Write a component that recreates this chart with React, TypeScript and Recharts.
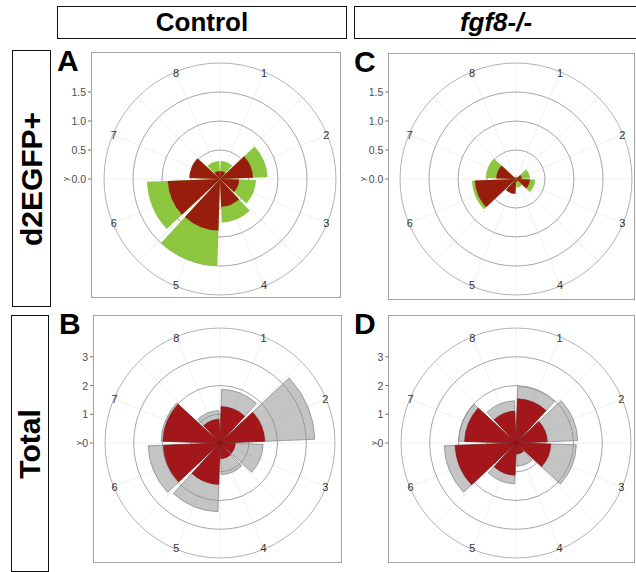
import React from 'react';
import {
  RadialBarChart,
  RadialBar,
  PolarGrid,
  PolarAngleAxis,
  PolarRadiusAxis,
} from 'recharts';

const sectors = ['1', '2', '3', '4', '5', '6', '7', '8'];

// d2EGFP+ rows: green = all d2EGFP+ cells, red = subset drawn on top
const controlGfpGreen = [0.31, 0.82, 0.62, 0.75, 1.5, 1.26, 0.45, 0.31];
const controlGfpRed = [0.14, 0.57, 0.33, 0.48, 0.89, 0.9, 0.53, 0.14];
const mutantGfpGreen = [0.04, 0.24, 0.33, 0.15, 0.2, 0.76, 0.52, 0.04];
const mutantGfpRed = [0.03, 0.1, 0.24, 0.05, 0.26, 0.71, 0.34, 0.03];

// Total rows: grey = all cells, red = subset
const controlTotalGrey = [1.87, 3.3, 1.5, 1.1, 2.39, 2.5, 2.05, 1.13];
const controlTotalRed = [1.27, 1.56, 0.53, 0.55, 1.44, 1.97, 1.98, 0.83];
const mutantTotalGrey = [1.97, 2.15, 2.1, 0.81, 1.42, 2.5, 2.0, 1.47];
const mutantTotalRed = [1.54, 1.09, 1.21, 0.39, 1.12, 2.12, 1.79, 1.11];

const gfpTicks = [0, 0.5, 1, 1.5];
const totalTicks = [0, 1, 2, 3];

const FONT = '"Liberation Sans", Arial, sans-serif';
const SPOKES = Array.from({ length: 16 }, (_, i) => i * 22.5);

const W = 300;
const H = 270;
const CX = 160;
const CY = 135;
// bars open counter-clockwise from their tick, so the whole wheel is turned
// back one sector and the labels are moved to the middle of each bar
const START = 45;
const HALF_SECTOR = 22.5;

interface BarStyle {
  fill: string;
  stroke?: string;
  fillOpacity?: number;
}

interface RosePanelProps {
  letter: string;
  frame: [number, number, number, number];
  center: [number, number];
  back: number[];
  front: number[];
  backStyle: BarStyle;
  frontStyle: BarStyle;
  ticks: number[];
  maxR: number;
  outer: number;
  digits: number;
  titleGap: number;
}

function RosePanel({
  letter, frame, center, back, front, backStyle, frontStyle, ticks, maxR, outer, digits, titleGap,
}: RosePanelProps) {
  const data = sectors.map((s, i) => ({ sector: s, back: back[i], front: front[i] }));
  const left = center[0] - CX;
  const top = center[1] - CY;
  const labelX = frame[0] - left - 5;

  const AngleTick = (props: any) => {
    const { payload } = props;
    const a = ((payload.coordinate + HALF_SECTOR) * Math.PI) / 180;
    const r = outer - 1;
    const x = CX + r * Math.cos(a);
    const y = CY - r * Math.sin(a);
    return (
      <text x={x} y={y} textAnchor="middle" dominantBaseline="central" fontSize={11} fill="#333" fontFamily={FONT}>
        {payload.value}
      </text>
    );
  };

  const RadiusTick = (props: any) => {
    const { y, payload } = props;
    const v = payload.value as number;
    return (
      <g>
        <text x={labelX} y={y} textAnchor="end" dominantBaseline="central" fontSize={10.5} fill="#4d4d4d" fontFamily={FONT}>
          {v.toFixed(digits)}
        </text>
        <line x1={labelX + 2} x2={labelX + 5} y1={y} y2={y} stroke="#4d4d4d" strokeWidth={0.8} />
        {v === 0 && (
          <text
            x={labelX - titleGap}
            y={y}
            textAnchor="middle"
            dominantBaseline="central"
            fontSize={8}
            fill="#4d4d4d"
            fontFamily={FONT}
            transform={`rotate(-90 ${labelX - titleGap} ${y})`}
          >
            y
          </text>
        )}
      </g>
    );
  };

  const chartProps = {
    width: W,
    height: H,
    data,
    cx: CX,
    cy: CY,
    innerRadius: 0,
    outerRadius: outer,
    startAngle: START,
    endAngle: START - 360,
    layout: 'centric' as const,
    barCategoryGap: '5%',
  };

  return (
    <>
      <div
        style={{
          position: 'absolute', left: frame[0], top: frame[1], width: frame[2], height: frame[3],
          border: '1.5px solid #a3a3a3', boxSizing: 'border-box',
        }}
      />
      <div style={{ position: 'absolute', left, top }}>
        <RadialBarChart {...chartProps}>
          <PolarGrid gridType="circle" polarAngles={SPOKES} polarRadius={[]} stroke="#ebebeb" strokeWidth={0.8} />
          <PolarGrid gridType="circle" radialLines={false} stroke="#8e8e8e" strokeWidth={0.8} />
          <PolarAngleAxis
            dataKey="sector"
            type="category"
            tickSize={0}
            tickLine={false}
            axisLineType="circle"
            axisLine={{ stroke: '#a0a0a0', strokeWidth: 0.8 }}
            tick={AngleTick}
          />
          <PolarRadiusAxis
            type="number"
            angle={90}
            domain={[0, maxR]}
            ticks={ticks}
            axisLine={false}
            tickLine={false}
            tick={RadiusTick}
          />
          <RadialBar
            dataKey="back"
            fill={backStyle.fill}
            fillOpacity={backStyle.fillOpacity ?? 1}
            stroke={backStyle.stroke ?? 'none'}
            strokeWidth={0.8}
            isAnimationActive={false}
          />
        </RadialBarChart>
      </div>
      <div style={{ position: 'absolute', left, top }}>
        <RadialBarChart {...chartProps}>
          <PolarAngleAxis dataKey="sector" type="category" tick={false} axisLine={false} tickLine={false} />
          <PolarRadiusAxis type="number" angle={90} domain={[0, maxR]} ticks={ticks} tick={false} axisLine={false} tickLine={false} />
          <RadialBar
            dataKey="front"
            fill={frontStyle.fill}
            stroke={frontStyle.stroke ?? 'none'}
            strokeWidth={0.6}
            isAnimationActive={false}
          />
        </RadialBarChart>
      </div>
      <div
        style={{
          position: 'absolute', left: frame[0] - 34, top: frame[1] - 6, fontSize: 30, fontWeight: 'bold',
          fontFamily: FONT, lineHeight: '30px', color: '#000',
        }}
      >
        {letter}
      </div>
    </>
  );
}

const boxStyle: React.CSSProperties = {
  position: 'absolute',
  border: '1.5px solid #111',
  boxSizing: 'border-box',
  background: '#fff',
};

export default function App() {
  const green: BarStyle = { fill: '#8cc63f' };
  const darkRed: BarStyle = { fill: '#971d0c' };
  const grey: BarStyle = { fill: '#8a8a8a', fillOpacity: 0.5, stroke: '#8a8a8a' };
  const crimson: BarStyle = { fill: '#a3171b', stroke: '#7a1014' };

  return (
    <div style={{ position: 'absolute', left: 0, top: 0, width: 636, height: 572, background: '#fff', overflow: 'hidden', fontFamily: FONT }}>
      <div style={{ ...boxStyle, left: 57, top: 6, width: 290, height: 33 }}>
        <div style={{ textAlign: 'center', fontWeight: 'bold', fontSize: 26, lineHeight: '30px' }}>Control</div>
      </div>
      <div style={{ ...boxStyle, left: 354, top: 6, width: 290, height: 33 }}>
        <div style={{ width: 282, textAlign: 'center', fontWeight: 'bold', fontStyle: 'italic', fontSize: 26, lineHeight: '30px' }}>fgf8-/-</div>
      </div>
      <div style={{ ...boxStyle, left: 12, top: 50, width: 39, height: 257 }}>
        <div
          style={{
            position: 'absolute', left: '50%', top: '50%', transform: 'translate(-50%, -50%) rotate(-90deg)',
            fontWeight: 'bold', fontSize: 30, whiteSpace: 'nowrap', lineHeight: '32px',
          }}
        >
          d2EGFP+
        </div>
      </div>
      <div style={{ ...boxStyle, left: 11, top: 315, width: 38, height: 257 }}>
        <div
          style={{
            position: 'absolute', left: '50%', top: '50%', transform: 'translate(-50%, -50%) rotate(-90deg)',
            fontWeight: 'bold', fontSize: 30, whiteSpace: 'nowrap', lineHeight: '32px',
          }}
        >
          Total
        </div>
      </div>

      <RosePanel
        letter="A" frame={[91, 52, 250, 246]} center={[220, 178.5]}
        back={controlGfpGreen} front={controlGfpRed} backStyle={green} frontStyle={darkRed}
        ticks={gfpTicks} maxR={1.706} outer={116} digits={1} titleGap={21}
      />
      <RosePanel
        letter="C" frame={[388, 53, 247, 247]} center={[515.7, 179]}
        back={mutantGfpGreen} front={mutantGfpRed} backStyle={green} frontStyle={darkRed}
        ticks={gfpTicks} maxR={1.706} outer={116} digits={1} titleGap={21}
      />
      <RosePanel
        letter="B" frame={[93, 315, 249, 248]} center={[220, 443]}
        back={controlTotalGrey} front={controlTotalRed} backStyle={grey} frontStyle={crimson}
        ticks={totalTicks} maxR={3.82} outer={115} digits={0} titleGap={10}
      />
      <RosePanel
        letter="D" frame={[388, 315, 247, 248]} center={[515.7, 443.3]}
        back={mutantTotalGrey} front={mutantTotalRed} backStyle={grey} frontStyle={crimson}
        ticks={totalTicks} maxR={3.82} outer={115} digits={0} titleGap={10}
      />
    </div>
  );
}
